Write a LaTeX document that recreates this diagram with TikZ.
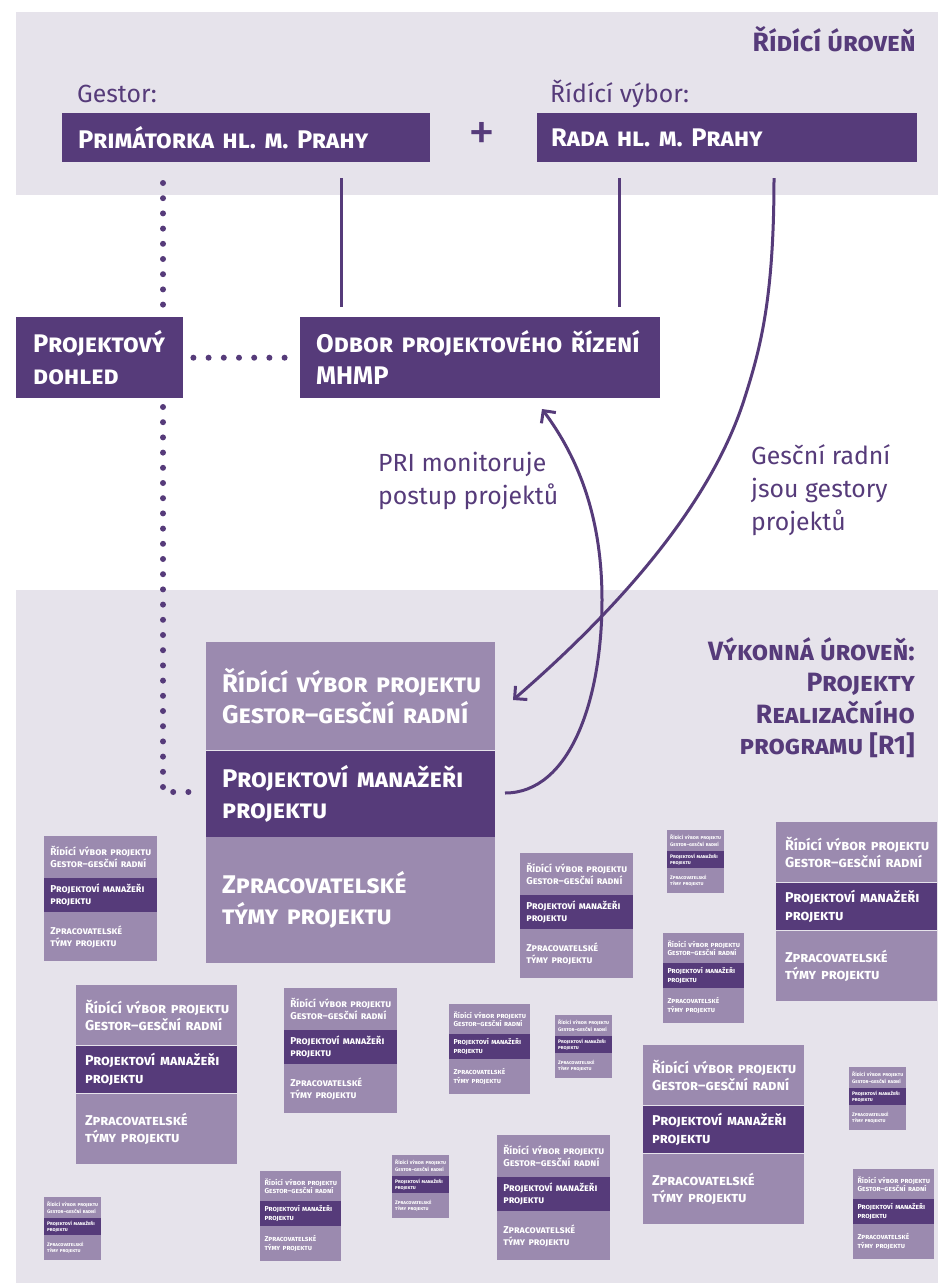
\documentclass[tikz,border=0pt]{standalone}
\usepackage{fontspec}
\setmainfont{Fira Sans}
\usetikzlibrary{arrows.meta,calc}
\definecolor{darkp}{RGB}{86,59,122}
\definecolor{lightp}{RGB}{155,138,175}
\definecolor{panelc}{RGB}{230,227,235}
\newcommand\hfnt{\bfseries\scshape\frenchspacing\hyphenpenalty=10000\exhyphenpenalty=10000}
\newcommand\ind{\hspace*{16pt}}
\tikzset{
  panel/.style={fill=panelc},
  darkbox/.style={fill=darkp, text=white, anchor=north west, inner ysep=0pt, align=left, font=\fontsize{25.5}{32}\selectfont\hfnt},
  seclight/.style={fill=lightp, text=white, anchor=north west, inner xsep=0pt, inner ysep=0pt, text width=289, align=left, font=\fontsize{25.6}{31}\selectfont\hfnt},
  secdark/.style={seclight, fill=darkp},
  lbl/.style={text=darkp, inner sep=0pt, align=left, font=\fontsize{24.8}{33}\selectfont},
  ttl/.style={text=darkp, inner sep=0pt, font=\fontsize{26.5}{31.5}\selectfont\hfnt},
  solidline/.style={draw=darkp, line width=3},
  dotline/.style={draw=darkp, line width=6, line cap=round, dash pattern=on 0pt off 15.2pt},
  curvearrow/.style={draw=darkp, line width=3, -{Straight Barb[length=9pt,width=18pt]}},
}
\newcommand\projstack[4]{%
  \begin{scope}[shift={(#2,#3)}, scale=#4, transform shape]
    \node[seclight, minimum height=108] (#1a) at (0,0) {\ind Řídící výbor projektu\\\ind Gestor–gesční radní};
    \node[secdark, minimum height=86] (#1b) at (#1a.south west) {\ind Projektoví manažeři\\\ind projektu};
    \node[seclight, minimum height=126] (#1c) at (#1b.south west) {\ind Zpracovatelské\\\ind týmy projektu};
  \end{scope}}
\begin{document}
\begin{tikzpicture}[x=1pt,y=-1pt]
  \useasboundingbox (0,0) rectangle (938,1283);
  \fill[white] (0,0) rectangle (938,1283);
  \fill[panel] (16,12) rectangle (938,195);
  \fill[panel] (16,590) rectangle (938,1283);

  % top level
  \node[ttl, anchor=base east] (ridici) at (916,51) {Řídící úroveň};
  \node[lbl, anchor=base west] (gestorlbl) at (77,102) {Gestor:};
  \node[lbl, anchor=base west] (vyborlbl) at (550,102) {Řídící výbor:};
  \node[darkbox, inner xsep=16, minimum width=368, minimum height=49, text width=336] (prim) at (62,113) {Primátorka hl. m. Prahy};
  \node[darkbox, inner xsep=14, minimum width=380, minimum height=49, text width=352] (rada) at (537,113) {Rada hl. m. Prahy};
  \node[text=darkp, inner sep=0pt, font=\fontsize{54}{54}\selectfont] (plus) at (482,136) {+};

  \node[darkbox, inner xsep=17, minimum width=167, minimum height=81, text width=133] (pd) at (16,317) {Projektový\\dohled};
  \node[darkbox, inner xsep=16, minimum width=360, minimum height=81, text width=328] (odbor) at (300,317) {Odbor projektového řízení\\MHMP};

  % main stack
  \projstack{S}{206}{642}{1}

  % connectors
  \coordinate (d1) at (163,183);
  \coordinate (d2) at (163,306);
  \coordinate (d3) at (163,407);
  \coordinate (d4) at (163,792);
  \coordinate (d5) at (194,792);
  \draw[dotline] (d1) -- (d2);
  \draw[dotline] (d3) -- (d4) -- (d5);
  \draw[dotline, shorten <=10pt, shorten >=14.5pt] (pd.east) -- (odbor.west);

  \coordinate (l1a) at (341,178);
  \coordinate (l1b) at (341,307);
  \coordinate (l2a) at (619,178);
  \coordinate (l2b) at (619,307);
  \draw[solidline] (l1a) -- (l1b);
  \draw[solidline] (l2a) -- (l2b);

  \coordinate (c1s) at (774,178);
  \coordinate (c1e) at (513,700);
  \draw[curvearrow] (c1s) .. controls (774,300) and (760,350) .. (744,400)
     .. controls (715,490) and (640,590) .. (c1e);
  \coordinate (c2s) at (505,793);
  \coordinate (c2e) at (542,409);
  \draw[curvearrow] (c2s) .. controls (570,793) and (602,700) .. (602,600)
     .. controls (602,520) and (580,460) .. (c2e);

  \node[lbl, anchor=north west] (pri) at (378,452) {PRI monitoruje\\postup projektů};
  \node[lbl, anchor=north west] (gesc) at (751,444) {Gesční radní\\jsou gestory\\projektů};
  \node[ttl, anchor=north east, align=right] (vykon) at (915,637) {Výkonná úroveň:\\Projekty\\Realizačního\\programu [R1]};

  % other project stacks
  \projstack{A}{44}{836}{0.39}
  \projstack{B}{520}{853}{0.39}
  \projstack{C}{667}{830}{0.197}
  \projstack{D}{776}{822}{0.557}
  \projstack{E}{663}{933}{0.28}
  \projstack{F}{76}{985}{0.557}
  \projstack{G}{284}{988}{0.39}
  \projstack{H}{449}{1004}{0.28}
  \projstack{I}{555}{1015}{0.197}
  \projstack{J}{643}{1045}{0.557}
  \projstack{K}{849}{1067}{0.197}
  \projstack{L}{853}{1169}{0.28}
  \projstack{M}{497}{1135}{0.39}
  \projstack{N}{260}{1171}{0.28}
  \projstack{O}{392}{1155}{0.197}
  \projstack{P}{44}{1197}{0.197}
\end{tikzpicture}
\end{document}
